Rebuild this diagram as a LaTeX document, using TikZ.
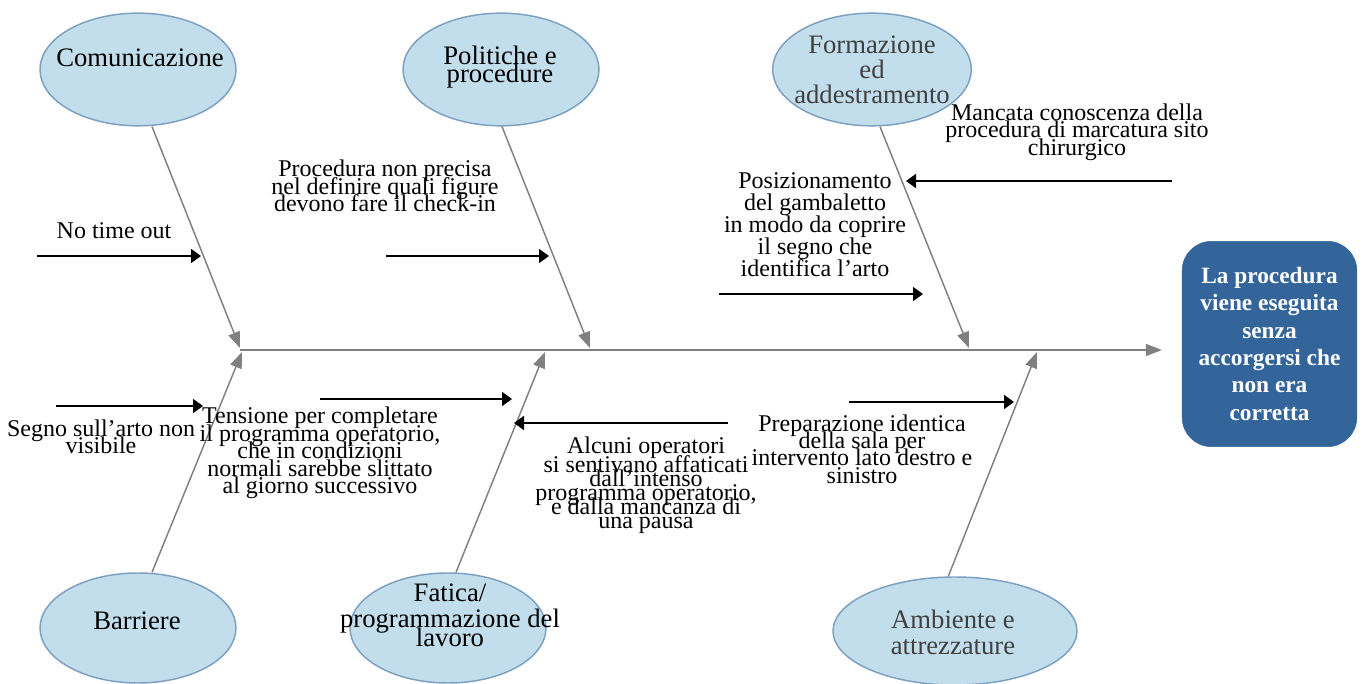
\documentclass[tikz,border=0pt]{standalone}
\usepackage{fontspec}
\setmainfont{Liberation Serif}
\usetikzlibrary{shapes.geometric,arrows.meta}
\definecolor{catfill}{RGB}{194,222,236}
\definecolor{catdraw}{RGB}{125,160,192}
\definecolor{bonegray}{RGB}{128,128,128}
\definecolor{headblue}{RGB}{51,101,155}
\definecolor{softblack}{RGB}{64,64,64}
\begin{document}
\lineskiplimit=-50pt
\lineskip=0pt
\begin{tikzpicture}[x=0.75pt,y=-0.75pt,
  every node/.append style={execute at begin node={\lineskiplimit=-50pt\lineskip=0pt}},
  cat/.style={ellipse,draw=catdraw,fill=catfill,line width=1.1pt,minimum width=147pt,minimum height=84.5pt,inner sep=0pt},
  cattext/.style={align=center,inner sep=0pt,font=\fontsize{20}{13.5}\selectfont},
  lbl/.style={align=center,inner sep=0pt,font=\fontsize{18}{13.1}\selectfont},
  bone/.style={color=bonegray,line width=1.1pt,-{Triangle[length=12pt,width=9pt]}},
  cause/.style={color=black,line width=1.4pt,-{Triangle[length=7.5pt,width=10.5pt]}},
  headbox/.style={rectangle,rounded corners=22pt,fill=headblue,draw=headblue,text=white,
    minimum width=131pt,minimum height=154pt,align=center,inner sep=0pt,
    font=\fontsize{17.5}{20.5}\selectfont\bfseries}
]
\useasboundingbox (0,0) rectangle (1365,684);

% category ellipses
\node[cat] (com) at (138,69.5) {};
\node[cat] (pol) at (501,69.5) {};
\node[cat,minimum width=149pt] (for) at (872,69.5) {};
\node[cat,minimum height=82.5pt] (bar) at (138,628) {};
\node[cat,minimum height=82.5pt] (fat) at (448,628) {};
\node[cat,minimum width=183pt,minimum height=81pt] (amb) at (955,631) {};

\node[cattext] (comt) at (140,58) {Comunicazione};
\node[cattext] (polt) at (500,67) {Politiche e\\procedure};
\node[cattext,text=softblack,font=\fontsize{20}{18.75}\selectfont] (fort) at (872,70) {Formazione\\ed\\addestramento};
\node[cattext] (bart) at (137,621) {Barriere};
\node[cattext,font=\fontsize{20}{14.25}\selectfont] (fatt) at (450,615) {Fatica/\\[5pt]programmazione del\\lavoro};
\node[cattext,text=softblack,font=\fontsize{20}{19.5}\selectfont] (ambt) at (953,632) {Ambiente e\\attrezzature};

% head
\node[headbox] (head) at (1269.5,344) {La procedura\\viene eseguita\\senza\\accorgersi che\\non era\\corretta};

% spine and bones
\coordinate (s0) at (240,350);
\coordinate (t1) at (240,348);
\coordinate (t2) at (590,348);
\coordinate (t3) at (969,348);
\coordinate (t4) at (242,352);
\coordinate (t5) at (545,352);
\coordinate (t6) at (1037,352);
\draw[bone] (s0) -- ([xshift=-15pt]head.west |- s0);
\draw[bone] ([xshift=10.5pt]com.south) -- (t1);
\draw[bone] ([xshift=0.75pt]pol.south) -- (t2);
\draw[bone] ([xshift=6pt]for.south) -- (t3);
\draw[bone] ([xshift=10.5pt]bar.north) -- (t4);
\draw[bone] ([xshift=6pt]fat.north) -- (t5);
\draw[bone] ([xshift=-5pt]amb.north) -- (t6);

% cause arrows
\coordinate (a1s) at (37,256);   \coordinate (a1e) at (201,256);
\coordinate (a2s) at (386,256);  \coordinate (a2e) at (549,256);
\coordinate (a3s) at (1172,181); \coordinate (a3e) at (906,181);
\coordinate (a4s) at (719,294);  \coordinate (a4e) at (923,294);
\coordinate (a5s) at (56,406);   \coordinate (a5e) at (203,406);
\coordinate (a6s) at (320,399);  \coordinate (a6e) at (512,399);
\coordinate (a7s) at (728,423);  \coordinate (a7e) at (514,423);
\coordinate (a8s) at (849,402);  \coordinate (a8e) at (1014,402);
\foreach \i in {1,...,8} {\draw[cause] (a\i s) -- (a\i e);}

% labels
\node[lbl] (l1) at (114,231) {No time out};
\node[lbl] (l2) at (385,186) {Procedura non precisa\\nel definire quali figure\\devono fare il check-in};
\node[lbl] (l3) at (1077,132) {Mancata conoscenza della\\procedura di marcatura sito\\chirurgico};
\node[lbl,font=\fontsize{18}{16.5}\selectfont] (l4) at (815,225) {Posizionamento\\del gambaletto\\in modo da coprire\\il segno che\\identifica l’arto};
\node[lbl,font=\fontsize{18}{12.75}\selectfont] (l5) at (101,437) {Segno sull’arto non\\visibile};
\node[lbl] (l6) at (320,453) {Tensione per completare\\il programma operatorio,\\che in condizioni\\normali sarebbe slittato\\al giorno successivo};
\node[lbl,font=\fontsize{18}{10.5}\selectfont] (l7) at (646,485) {Alcuni operatori\\[3.5pt]si sentivano affaticati\\dall’intenso\\programma operatorio,\\e dalla mancanza di\\una pausa};
\node[lbl] (l8) at (862,449) {Preparazione identica\\della sala per\\intervento lato destro e\\sinistro};
\end{tikzpicture}
\end{document}
